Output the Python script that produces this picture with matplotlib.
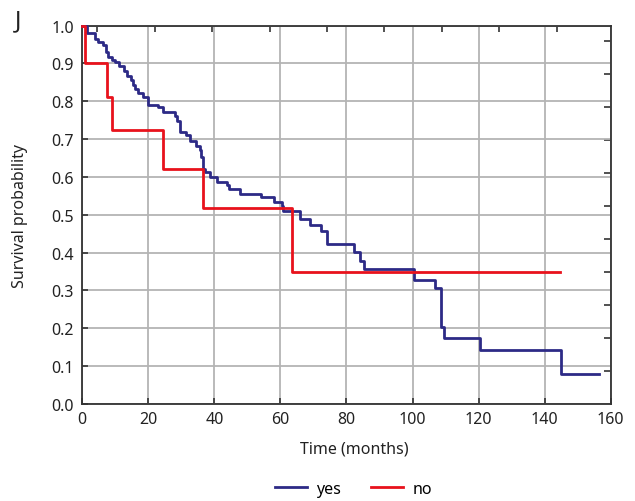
import matplotlib
matplotlib.use("Agg")
import matplotlib.pyplot as plt
import numpy as np

plt.rcParams['font.family'] = ['Noto Sans', 'DejaVu Sans']

# Kaplan-Meier step data (time in months, survival probability after the step)
yes_t = [0, 1.5, 3.85, 4.85, 6.2, 7.2, 7.9, 8.9, 9.9, 11.2,
         12.6, 13.4, 14.7, 15.5, 16.0, 17.0, 18.5, 20.0, 23.0, 24.4,
         28.1, 28.6, 29.6, 31.4, 32.6, 34.5, 35.5, 36.0, 36.6, 37.2,
         38.7, 40.9, 43.9, 44.5, 47.8, 54.2, 57.9, 60.4, 60.7, 66.0,
         68.8, 72.2, 74.1, 82.3, 84.2, 85.2, 100.3, 106.9, 108.6, 109.4,
         120.5, 145.0, 156.4]
yes_s = [1.0, 0.980, 0.964, 0.956, 0.948, 0.931, 0.916, 0.910, 0.903, 0.894,
         0.881, 0.867, 0.857, 0.843, 0.832, 0.822, 0.810, 0.790, 0.784, 0.771,
         0.762, 0.748, 0.718, 0.711, 0.696, 0.682, 0.672, 0.652, 0.621, 0.614,
         0.599, 0.586, 0.579, 0.568, 0.555, 0.548, 0.533, 0.524, 0.511, 0.489,
         0.473, 0.458, 0.423, 0.401, 0.379, 0.358, 0.328, 0.306, 0.203, 0.174,
         0.144, 0.079, 0.079]

no_t = [0, 0.8, 7.4, 9.1, 24.4, 36.5, 63.4, 144.8]
no_s = [1.0, 0.901, 0.810, 0.725, 0.621, 0.518, 0.350, 0.350]

series_labels = ["yes", "no"]
x_ticks = [0, 20, 40, 60, 80, 100, 120, 140, 160]
y_ticks = [0.0, 0.1, 0.2, 0.3, 0.4, 0.5, 0.6, 0.7, 0.8, 0.9, 1.0]

BLUE = "#2d2a86"
RED = "#e8121c"
GRID = "#b4b4b4"
SPINE = "#333333"
TEXT = "#222222"
FS = 11.5

fig = plt.figure(figsize=(6.35, 5.02), dpi=100)
ax = fig.add_axes([0.1296, 0.1932, 0.8321, 0.7540])

ax.set_xlim(0, 160)
ax.set_ylim(0, 1)
ax.set_xticks(x_ticks)
ax.set_yticks(y_ticks)
ax.set_yticklabels([f"{v:.1f}" for v in y_ticks])
ax.grid(True, color=GRID, linewidth=1.3)
ax.set_axisbelow(True)

for s in ax.spines.values():
    s.set_color(SPINE)
    s.set_linewidth(1.3)

ax.tick_params(axis='both', direction='in', length=4, width=1.2, color=SPINE,
               labelsize=FS, labelcolor=TEXT, pad=6)
ax.tick_params(axis='x', pad=5)

ax.step(yes_t, yes_s, where='post', color=BLUE, linewidth=2.0,
        label=series_labels[0], clip_on=False, zorder=3)
ax.step(no_t, no_s, where='post', color=RED, linewidth=2.0,
        label=series_labels[1], clip_on=False, zorder=4)

# decorative ticks on top and right edges (as in the original export)
secx = ax.secondary_xaxis('top')
secx.set_xticks([4.5, 21.9, 39.3, 56.7, 74.1, 91.5, 108.9, 126.3, 143.7])
secx.tick_params(direction='in', length=4, width=1.2, color=SPINE, labeltop=False)
secx.spines['top'].set_visible(False)
secy = ax.secondary_yaxis('right')
secy.set_yticks([0.087 + 0.0872 * k for k in range(11)])
secy.tick_params(direction='in', length=5, width=1.2, color=SPINE, labelright=False)
secy.spines['right'].set_visible(False)

ax.set_xlabel("Time (months)", fontsize=FS, color=TEXT)
ax.xaxis.set_label_coords(0.515, -0.096)
ax.set_ylabel("Survival probability", fontsize=FS, color=TEXT)
ax.yaxis.set_label_coords(-0.102, 0.5)

fig.text(0.023, 0.958, "J", fontsize=17, color=TEXT, ha='left', va='center')

fig.legend(loc='center', bbox_to_anchor=(0.557, 0.024), ncol=2, frameon=False,
           fontsize=FS, handlelength=2.0, handletextpad=0.6, columnspacing=1.9)

fig.savefig("out.png", dpi=100)
